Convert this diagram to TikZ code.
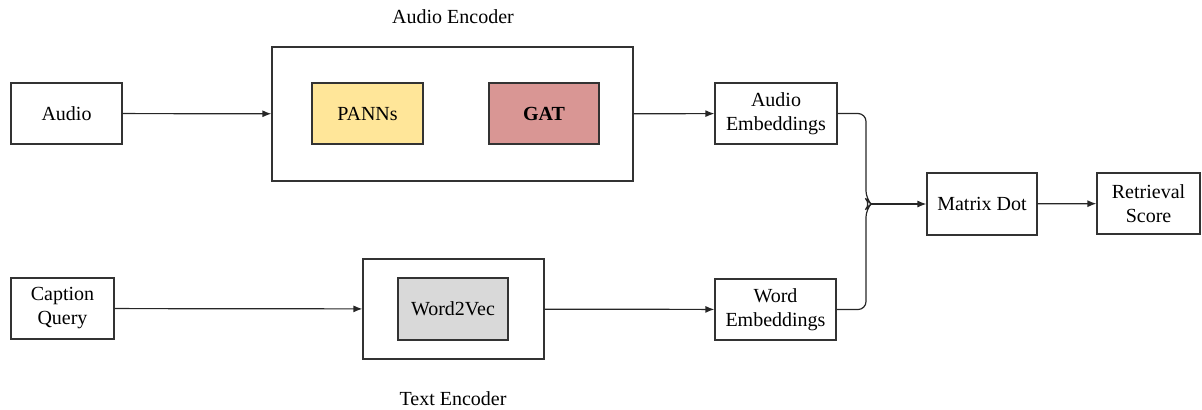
\documentclass[tikz,border=0pt]{standalone}
\usepackage{fontspec}
\setmainfont{LiberationSerif}[Extension=.ttf,UprightFont=*-Regular,BoldFont=*-Bold]
\usetikzlibrary{arrows.meta}
\definecolor{pannsfill}{HTML}{FFE699}
\definecolor{gatfill}{HTML}{D99694}
\definecolor{wvfill}{HTML}{D9D9D9}
\begin{document}
\begin{tikzpicture}[x=0.5pt,y=-0.5pt,
    box/.style={draw=black!80,line width=0.6pt,align=center,inner sep=0pt,
      font=\fontsize{10}{12}\selectfont},
    arr/.style={-{Latex[length=4.5pt,width=3.5pt]},draw=black!85,line width=0.6pt},
    lbl/.style={font=\fontsize{10}{12}\selectfont}]
      \useasboundingbox (0,0) rectangle (1202,409);
      \node[box,minimum width=180.5pt,minimum height=67pt] (audioenc) at (452.5,114) {};
      \node[box,minimum width=90.5pt,minimum height=50pt] (textenc) at (453.5,309) {};
      \node[lbl] (audioenclbl) at (453,17) {Audio Encoder};
      \node[lbl] (textenclbl) at (453,399) {Text Encoder};
      \node[box,minimum width=55.5pt,minimum height=30.5pt] (audio) at (66.5,113.5) {Audio};
      \node[box,minimum width=51.5pt,minimum height=30.5pt] (caption) at (62.5,308.5) {Caption\\Query};
      \node[box,fill=pannsfill,minimum width=55.5pt,minimum height=30.5pt] (panns) at (367.5,113.5) {PANNs};
      \node[box,fill=gatfill,minimum width=55pt,minimum height=30.5pt] (gat) at (544,113.5) {\textbf{GAT}};
      \node[box,fill=wvfill,minimum width=55pt,minimum height=31pt] (w2v) at (453,309) {Word2Vec};
      \node[box,minimum width=61pt,minimum height=30.5pt] (audioemb) at (776,113.5) {Audio\\Embeddings};
      \node[box,minimum width=60.5pt,minimum height=30.5pt] (wordemb) at (775.5,309.5) {Word\\Embeddings};
      \node[box,minimum width=55pt,minimum height=31pt] (matdot) at (982,204) {Matrix Dot};
      \node[box,minimum width=51.5pt,minimum height=30.5pt] (score) at (1148.5,203.5) {Retrieval\\Score};
      \coordinate (join) at (871,204);
      \draw[arr] (audio) -- (audioenc);
      \draw[arr] (caption) -- (textenc);
      \draw[arr] (audioenc) -- (audioemb);
      \draw[arr] (textenc) -- (wordemb);
      \draw[draw=black!85,line width=0.6pt,rounded corners=4pt]
        (audioemb.east) -| (866,199) -- (join) -- (866,209) |- (wordemb.east);
      \draw[arr] (join) -- (matdot);
      \draw[arr] (matdot) -- (score);
    \end{tikzpicture}
\end{document}
